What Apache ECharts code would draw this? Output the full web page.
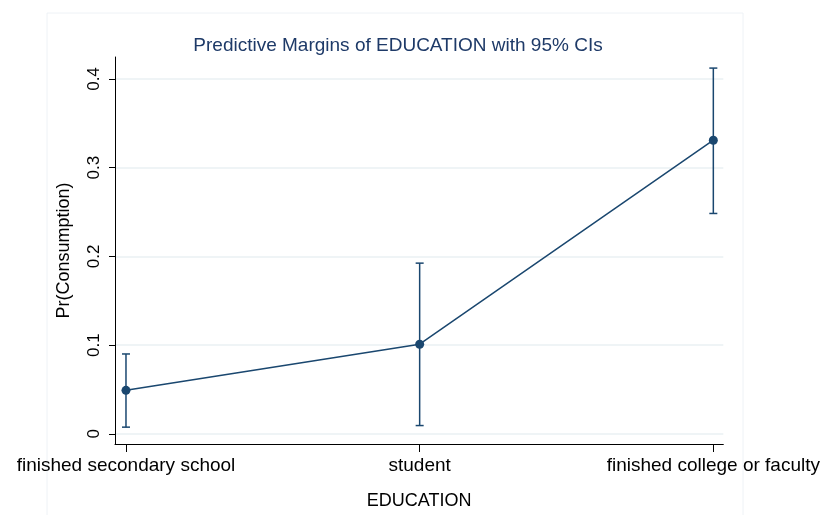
<!DOCTYPE html>
<html>
<head>
<meta charset="utf-8">
<script src="https://cdn.jsdelivr.net/npm/echarts@6/dist/echarts.min.js"></script>
<style>
  html, body { margin: 0; padding: 0; background: #fff; }
  #chart { width: 823px; height: 515px; }
</style>
</head>
<body>
<div id="chart"></div>
<script>
  const categories = ['finished secondary school', 'student', 'finished college or faculty'];
  const margins = [0.049, 0.101, 0.331];
  const ciLow = [0.0075, 0.0093, 0.2484];
  const ciHigh = [0.090, 0.1924, 0.4123];
  const yTicks = [0, 0.1, 0.2, 0.3, 0.4];

  const navy = '#1a476f';
  const font = 'Liberation Sans, Arial, sans-serif';

  const chart = echarts.init(document.getElementById('chart'));

  chart.setOption({
    animation: false,
    title: {
      text: 'Predictive Margins of EDUCATION with 95% CIs',
      left: 393,
      textAlign: 'center',
      top: 31,
      textStyle: { fontFamily: font, fontSize: 19, fontWeight: 'normal', color: '#1e3a68' }
    },
    graphic: [{
      type: 'rect',
      shape: { x: 47, y: 13, width: 696, height: 520 },
      style: { fill: 'none', stroke: '#eef2f6', lineWidth: 1 },
      silent: true
    }],
    grid: { left: 115, right: 99, top: 57, bottom: 66 },
    xAxis: {
      type: 'value',
      min: -0.0374,
      max: 2.034,
      name: 'EDUCATION',
      nameLocation: 'middle',
      nameGap: 48,
      nameTextStyle: { fontFamily: font, fontSize: 18, color: '#000' },
      axisLine: { show: true, onZero: false, lineStyle: { color: '#000', width: 1 } },
      axisTick: { show: true, customValues: [0, 1, 2], length: 8, lineStyle: { color: '#000' } },
      axisLabel: {
        customValues: [0, 1, 2],
        margin: 12,
        fontFamily: font,
        fontSize: 19,
        color: '#000',
        formatter: v => categories[Math.round(v)]
      },
      splitLine: { show: false }
    },
    yAxis: {
      type: 'value',
      min: -0.0115,
      max: 0.4248,
      name: 'Pr(Consumption)',
      nameLocation: 'middle',
      nameRotate: 90,
      nameGap: 42,
      nameTextStyle: { fontFamily: font, fontSize: 18, color: '#000' },
      axisLine: { show: true, onZero: false, lineStyle: { color: '#000', width: 1 } },
      axisTick: { show: true, customValues: yTicks, length: 6, lineStyle: { color: '#000' } },
      axisLabel: {
        customValues: yTicks,
        rotate: 90,
        margin: 12,
        fontFamily: font,
        fontSize: 17,
        color: '#000',
        formatter: v => String(Math.round(v * 10) / 10)
      },
      splitLine: { show: true, lineStyle: { color: '#eaf0f3', width: 1.5 } }
    },
    series: [
      {
        type: 'custom',
        renderItem: (params, api) => {
          const x = api.value(0);
          const lo = api.coord([x, api.value(1)]);
          const hi = api.coord([x, api.value(2)]);
          const half = 4;
          const style = { stroke: navy, lineWidth: 1.5 };
          return {
            type: 'group',
            children: [
              { type: 'line', shape: { x1: lo[0], y1: lo[1], x2: hi[0], y2: hi[1] }, style },
              { type: 'line', shape: { x1: lo[0] - half, y1: lo[1], x2: lo[0] + half, y2: lo[1] }, style },
              { type: 'line', shape: { x1: hi[0] - half, y1: hi[1], x2: hi[0] + half, y2: hi[1] }, style }
            ]
          };
        },
        data: categories.map((c, i) => [i, ciLow[i], ciHigh[i]]),
        z: 2
      },
      {
        type: 'line',
        data: categories.map((c, i) => [i, margins[i]]),
        symbol: 'circle',
        symbolSize: 9,
        lineStyle: { color: navy, width: 1.5 },
        itemStyle: { color: navy },
        z: 3
      }
    ]
  });
</script>
</body>
</html>
